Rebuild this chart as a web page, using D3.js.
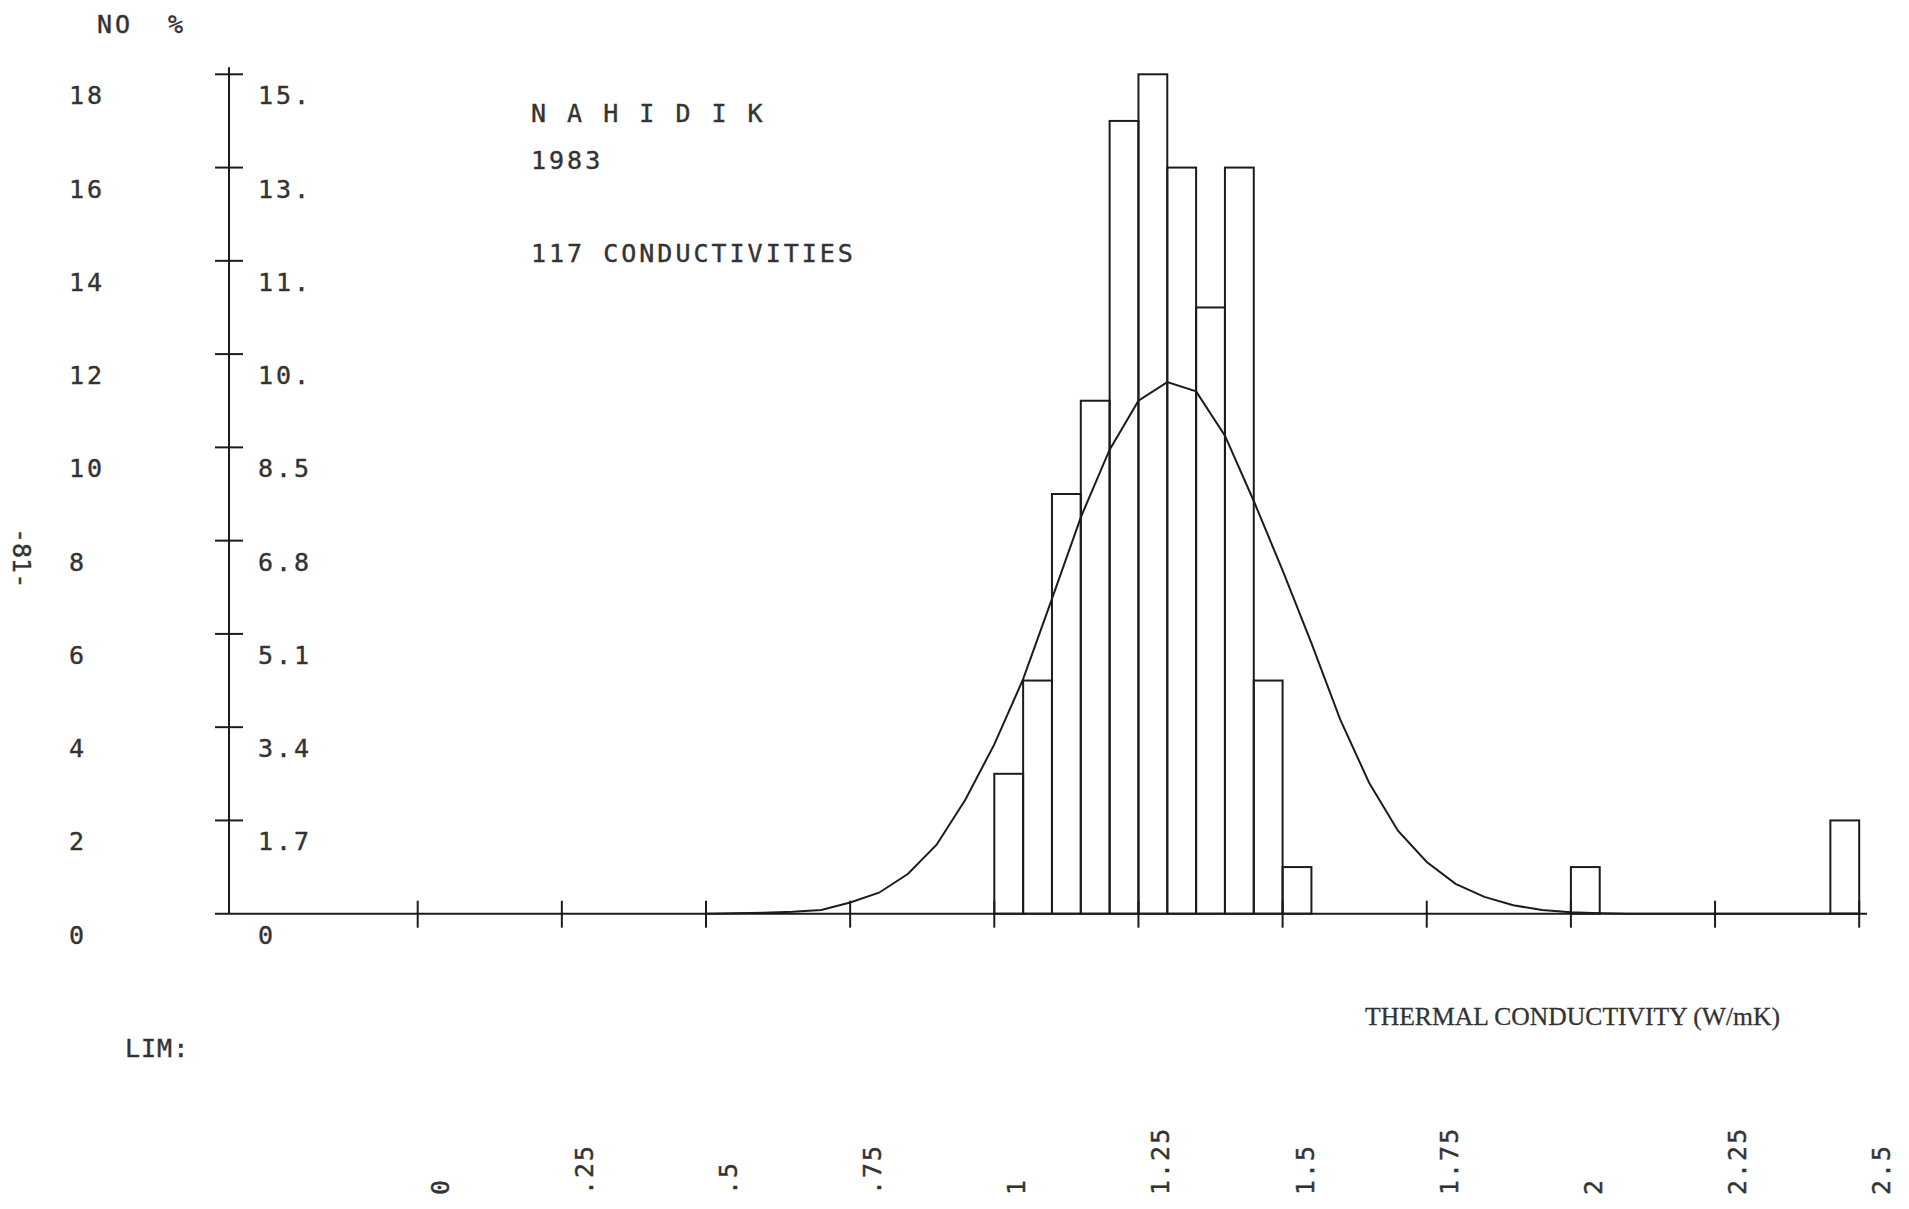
<!DOCTYPE html>
<html>
<head>
<meta charset="utf-8">
<script src="https://cdn.jsdelivr.net/npm/d3@7"></script>
<style>
    body { margin: 0; background: #fff; }
    .plotter { font-family: "DejaVu Sans Mono", monospace; font-size: 25px; fill: #333; stroke: #333; stroke-width: 0.4; letter-spacing: 3px; }
    .axis-title { font-family: "Liberation Serif", serif; font-size: 25px; fill: #333; stroke: #333; stroke-width: 0.3; }
    .ink { stroke: #1c1c1c; stroke-width: 2; fill: none; }
</style>
</head>
<body>
<div id="chart-wrap"></div>
<script>
// histogram counts, bins of 0.05 W/mK
const binStarts = [1.00, 1.05, 1.10, 1.15, 1.20, 1.25, 1.30, 1.35, 1.40, 1.45, 1.50, 2.00, 2.45]
const binCounts = [3, 5, 9, 11, 17, 18, 16, 13, 16, 5, 1, 1, 2]
const binWidth = 0.05

// fitted normal curve
const curveX = [0.50, 0.55, 0.60, 0.65, 0.70, 0.75, 0.80, 0.85, 0.90, 0.95, 1.00, 1.05, 1.10, 1.15, 1.20, 1.25, 1.30, 1.35, 1.40, 1.45, 1.50, 1.55, 1.60, 1.65, 1.70, 1.75, 1.80, 1.85, 1.90, 1.95, 2.00, 2.05, 2.10, 2.50]
const curveY = [0, 0.01, 0.02, 0.04, 0.08, 0.24, 0.45, 0.85, 1.48, 2.45, 3.63, 5.03, 6.75, 8.5, 9.95, 11.0, 11.4, 11.2, 10.25, 8.85, 7.36, 5.8, 4.16, 2.81, 1.78, 1.11, 0.64, 0.36, 0.18, 0.08, 0.03, 0.01, 0, 0]

// axes
const countTicks = [0, 2, 4, 6, 8, 10, 12, 14, 16, 18]
const countLabels = ['0', '2', '4', '6', '8', '10', '12', '14', '16', '18']
const pctLabels = ['0', '1.7', '3.4', '5.1', '6.8', '8.5', '10.', '11.', '13.', '15.']
const xTicks = [0, 0.25, 0.5, 0.75, 1, 1.25, 1.5, 1.75, 2, 2.25, 2.5]
const xTickLabels = ['0', '.25', '.5', '.75', '1', '1.25', '1.5', '1.75', '2', '2.25', '2.5']

class Histogram {

    constructor() {
        this.chart = {
            "width": 1909,
            "height": 1209,
            "yaxis_x": 229,
            "xaxis_start": 215,
            "xaxis_end": 1867,
            "tick": 14
        };

        this.xScale = d3.scaleLinear()
            .domain([0, 2.5])
            .range([417.7, 1859.2]);

        this.yScale = d3.scaleLinear()
            .domain([0, 18])
            .range([913.7, 74.3]);
    }

    initPlot() {
        let svg = d3.select('#chart-wrap')
            .append('svg')
            .attr('id', 'hist-svg')
            .attr('width', this.chart.width)
            .attr('height', this.chart.height)

        svg.append('g').attr('id', 'axes')
        svg.append('g').attr('id', 'bars')
        svg.append('g').attr('id', 'labels')

        this.drawAxes();
        this.drawPlot();
        this.drawText();
    }

    drawAxes() {
        let that = this;
        let g = d3.select('#axes')
        let y0 = this.yScale(0)

        // y axis
        g.append('line')
            .attr('class', 'ink')
            .attr('x1', this.chart.yaxis_x).attr('x2', this.chart.yaxis_x)
            .attr('y1', this.yScale(18) - 7).attr('y2', y0)

        g.selectAll('.ytick')
            .data(countTicks.slice(1))
            .join('line')
                .attr('class', 'ytick ink')
                .attr('x1', this.chart.yaxis_x - this.chart.tick)
                .attr('x2', this.chart.yaxis_x + this.chart.tick)
                .attr('y1', d => that.yScale(d))
                .attr('y2', d => that.yScale(d))

        // x axis
        g.append('line')
            .attr('class', 'ink')
            .attr('x1', this.chart.xaxis_start).attr('x2', this.chart.xaxis_end)
            .attr('y1', y0).attr('y2', y0)

        g.selectAll('.xtick')
            .data(xTicks)
            .join('line')
                .attr('class', 'xtick ink')
                .attr('x1', d => that.xScale(d))
                .attr('x2', d => that.xScale(d))
                .attr('y1', y0 - 13)
                .attr('y2', y0 + 14)

        // labels below each tick, counts far left and percentages right of the axis
        let lab = d3.select('#labels')

        lab.selectAll('.count-label')
            .data(countTicks)
            .join('text')
                .attr('class', 'count-label plotter')
                .attr('x', 69)
                .attr('y', d => that.yScale(d) + 30)
                .text((d, i) => countLabels[i])

        lab.selectAll('.pct-label')
            .data(countTicks)
            .join('text')
                .attr('class', 'pct-label plotter')
                .attr('x', 258)
                .attr('y', d => that.yScale(d) + 30)
                .text((d, i) => pctLabels[i])

        lab.selectAll('.x-label')
            .data(xTicks)
            .join('text')
                .attr('class', 'x-label plotter')
                .attr('transform', d => `translate(${that.xScale(d) + 31}, 1195) rotate(-90)`)
                .style('letter-spacing', '2px')
                .text((d, i) => xTickLabels[i])
    }

    drawPlot() {
        let that = this;
        let g = d3.select('#bars')

        g.selectAll('rect')
            .data(binStarts)
            .join('rect')
                .attr('class', 'ink')
                .attr('x', d => that.xScale(d))
                .attr('width', d => that.xScale(d + binWidth) - that.xScale(d))
                .attr('y', (d, i) => that.yScale(binCounts[i]))
                .attr('height', (d, i) => that.yScale(0) - that.yScale(binCounts[i]))

        let line = d3.line()
            .x(d => that.xScale(d[0]))
            .y(d => that.yScale(d[1]))

        g.append('path')
            .datum(curveX.map((d, i) => [d, curveY[i]]))
            .attr('class', 'ink')
            .attr('d', line)
    }

    drawText() {
        let lab = d3.select('#labels')

        lab.append('text').attr('class', 'plotter').attr('x', 97).attr('y', 33).text('NO')
        lab.append('text').attr('class', 'plotter').attr('x', 168).attr('y', 33).text('%')

        lab.append('text').attr('class', 'plotter').attr('x', 531).attr('y', 122).text('N A H I D I K')
        lab.append('text').attr('class', 'plotter').attr('x', 531).attr('y', 169).text('1983')
        lab.append('text').attr('class', 'plotter').attr('x', 531).attr('y', 262).text('117 CONDUCTIVITIES')

        lab.append('text')
            .attr('class', 'axis-title')
            .attr('x', 1365)
            .attr('y', 1025)
            .attr('textLength', 415)
            .attr('lengthAdjust', 'spacingAndGlyphs')
            .text('THERMAL CONDUCTIVITY (W/mK)')

        lab.append('text').attr('class', 'plotter').attr('x', 125).attr('y', 1057).style('letter-spacing', '1px').text('LIM:')

        // page number stamp
        lab.append('text')
            .attr('class', 'plotter')
            .attr('transform', 'translate(13, 528) rotate(90)')
            .style('letter-spacing', '0px')
            .text('-81-')
    }
}

let hist = new Histogram();
hist.initPlot();
</script>
</body>
</html>
